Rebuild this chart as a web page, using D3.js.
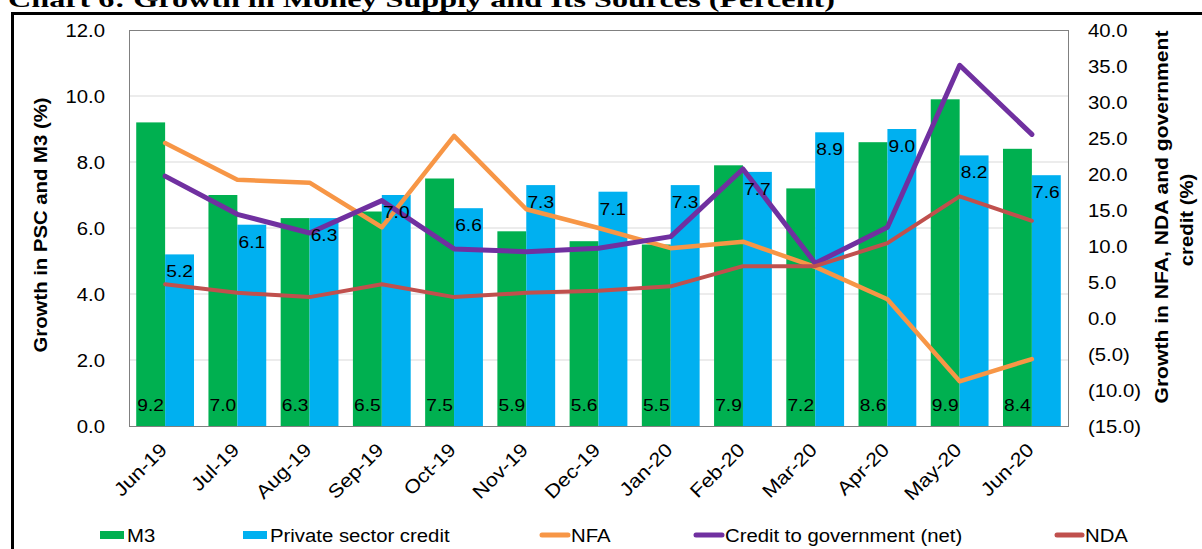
<!DOCTYPE html>
<html>
<head>
<meta charset="utf-8">
<script src="https://cdn.jsdelivr.net/npm/d3@7"></script>
<style>
  body { margin: 0; background: #fff; }
  svg { display: block; font-family: "Liberation Sans", Arial, sans-serif; }
</style>
</head>
<body>
<svg id="chart" width="1202" height="549"></svg>
<script>
// chart values
const categories = ["Jun-19", "Jul-19", "Aug-19", "Sep-19", "Oct-19", "Nov-19", "Dec-19",
                    "Jan-20", "Feb-20", "Mar-20", "Apr-20", "May-20", "Jun-20"];
const m3  = [9.2, 7.0, 6.3, 6.5, 7.5, 5.9, 5.6, 5.5, 7.9, 7.2, 8.6, 9.9, 8.4];
const psc = [5.2, 6.1, 6.3, 7.0, 6.6, 7.3, 7.1, 7.3, 7.7, 8.9, 9.0, 8.2, 7.6];
const nfa       = [24.3, 19.2, 18.8, 12.6, 25.3, 15.1, 12.5, 9.7, 10.6, 7.1, 2.6, -8.8, -5.7];
const govCredit = [19.7, 14.4, 11.8, 16.3, 9.6, 9.2, 9.7, 11.3, 20.7, 7.6, 12.6, 35.1, 25.5];
const nda       = [4.7, 3.5, 2.9, 4.7, 2.9, 3.5, 3.8, 4.4, 7.2, 7.2, 10.4, 16.9, 13.5];
const barNames  = ["M3", "Private sector credit"];
const lineNames = ["NFA", "Credit to government (net)", "NDA"];

const svg = d3.select("#chart");
const STRETCH = "scale(1.13,1)";  // text in the picture runs a bit wide

// plot area
const plotLeft = 129, plotRight = 1068, plotTop = 30, plotBottom = 426;

const x0 = d3.scaleBand().domain(categories).range([plotLeft, plotRight])
  .paddingInner(0.2).paddingOuter(0.1);
const x1 = d3.scaleBand().domain(barNames).range([0, x0.bandwidth()]);
const yL = d3.scaleLinear().domain([0, 12]).range([plotBottom, plotTop]);
const yR = d3.scaleLinear().domain([-15, 40]).range([plotBottom, plotTop]);
const cx = c => x0(c) + x0.bandwidth() / 2;

const barColours  = { "M3": "#00B050", "Private sector credit": "#00B0F0" };
const lineColours = { "NFA": "#F79646", "Credit to government (net)": "#7030A0", "NDA": "#C0504D" };

// outer frame + title (cut off at top, as in the source)
svg.append("rect")
  .attr("x", 12.5).attr("y", 13.5).attr("width", 1400).attr("height", 700)
  .attr("fill", "none").attr("stroke", "#000").attr("stroke-width", 3);

svg.append("text")
  .attr("x", 8).attr("y", 7)
  .attr("font-family", "'Liberation Serif', 'Times New Roman', serif")
  .attr("font-weight", "bold").attr("font-size", 23)
  .attr("textLength", 827).attr("lengthAdjust", "spacingAndGlyphs")
  .text("Chart 6: Growth in Money Supply and Its Sources (Percent)");

// gridlines
svg.append("g").selectAll("line").data(yL.ticks(6).filter(d => d > 0 && d < 12))
  .enter().append("line")
    .attr("x1", plotLeft).attr("x2", plotRight)
    .attr("y1", d => yL(d)).attr("y2", d => yL(d))
    .attr("stroke", "#d9d9d9").attr("stroke-width", 1);

// bars
const rows = categories.map((c, i) => ({ c, "M3": m3[i], "Private sector credit": psc[i] }));
const groups = svg.append("g").selectAll("g").data(rows).enter().append("g")
  .attr("transform", d => `translate(${x0(d.c)},0)`);

groups.selectAll("rect").data(d => barNames.map(k => ({ k, v: d[k] })))
  .enter().append("rect")
    .attr("x", d => x1(d.k))
    .attr("width", x1.bandwidth())
    .attr("y", d => yL(d.v))
    .attr("height", d => yL(0) - yL(d.v))
    .attr("fill", d => barColours[d.k]);

// plot border
svg.append("rect")
  .attr("x", plotLeft + 0.5).attr("y", plotTop + 0.5)
  .attr("width", plotRight - plotLeft).attr("height", plotBottom - plotTop)
  .attr("fill", "none").attr("stroke", "#808080").attr("stroke-width", 1);

// lines on the right axis
const lineSeries = [
  { name: "NFA", values: nfa, width: 4.5 },
  { name: "Credit to government (net)", values: govCredit, width: 5 },
  { name: "NDA", values: nda, width: 4 }
];
const lineGen = d3.line().x(d => cx(d.c)).y(d => yR(d.v));
svg.append("g").selectAll("path").data(lineSeries).enter().append("path")
  .attr("d", s => lineGen(categories.map((c, i) => ({ c, v: s.values[i] }))))
  .attr("fill", "none")
  .attr("stroke", s => lineColours[s.name])
  .attr("stroke-width", s => s.width)
  .attr("stroke-linejoin", "round").attr("stroke-linecap", "round");

// data labels
const fmt = d3.format(".1f");
const labels = svg.append("g").attr("font-size", 17).attr("fill", "#000").attr("text-anchor", "middle");
labels.selectAll(".m3lab").data(rows).enter().append("text")
  .attr("transform", d => `translate(${x0(d.c) + x1("M3") + x1.bandwidth() / 2},411) ${STRETCH}`)
  .text(d => fmt(d["M3"]));
labels.selectAll(".psclab").data(rows).enter().append("text")
  .attr("transform", d => `translate(${x0(d.c) + x1("Private sector credit") + x1.bandwidth() / 2},${yL(d["Private sector credit"]) + 23}) ${STRETCH}`)
  .text(d => fmt(d["Private sector credit"]));

// axes
const styleAxis = g => {
  g.attr("font-family", null).attr("font-size", null);
  g.select(".domain").remove();
  g.selectAll("text").attr("font-size", 18).attr("fill", "#000");
};

svg.append("g").attr("transform", "translate(105,0)")
  .call(d3.axisLeft(yL).ticks(6).tickSize(0).tickPadding(0).tickFormat(fmt))
  .call(styleAxis)
  .call(g => g.selectAll("text").attr("transform", STRETCH).attr("dy", "0.36em"));

svg.append("g").attr("transform", "translate(1088,0)")
  .call(d3.axisRight(yR).ticks(11).tickSize(0).tickPadding(0)
    .tickFormat(v => v < 0 ? `(${fmt(-v)})` : fmt(v)))
  .call(styleAxis)
  .call(g => g.selectAll("text").attr("transform", STRETCH).attr("dy", "0.36em"));

svg.append("g").attr("transform", `translate(0,${plotBottom})`)
  .call(d3.axisBottom(x0).tickSize(0).tickPadding(0))
  .call(styleAxis)
  .call(g => g.selectAll("text")
    .attr("font-size", 19)
    .attr("x", 0).attr("y", 0).attr("dy", 0)
    .attr("text-anchor", "end")
    .attr("transform", `translate(3,25) rotate(-45) ${STRETCH}`));

svg.append("line")
  .attr("x1", plotLeft).attr("x2", plotRight + 1)
  .attr("y1", plotBottom + 0.5).attr("y2", plotBottom + 0.5)
  .attr("stroke", "#808080");

// axis titles
svg.append("text")
  .attr("transform", "translate(47,225) rotate(-90)")
  .attr("text-anchor", "middle").attr("font-weight", "bold").attr("font-size", 18)
  .attr("textLength", 255).attr("lengthAdjust", "spacingAndGlyphs")
  .text("Growth in PSC and M3 (%)");

svg.append("text")
  .attr("transform", "translate(1168,217) rotate(-90)")
  .attr("text-anchor", "middle").attr("font-weight", "bold").attr("font-size", 18)
  .attr("textLength", 373).attr("lengthAdjust", "spacingAndGlyphs")
  .text("Growth in NFA, NDA and government");

svg.append("text")
  .attr("transform", `translate(1193,220) rotate(-90) ${STRETCH}`)
  .attr("text-anchor", "middle").attr("font-weight", "bold").attr("font-size", 18)
  .text("credit (%)");

// legend
const legendY = 535;
const legend = svg.append("g").attr("font-size", 18);
const legendItems = [
  { name: barNames[0], kind: "bar", x0: 100, x1: 124 },
  { name: barNames[1], kind: "bar", x0: 243, x1: 267 },
  { name: lineNames[0], kind: "line", x0: 542, x1: 568 },
  { name: lineNames[1], kind: "line", x0: 696, x1: 722 },
  { name: lineNames[2], kind: "line", x0: 1057, x1: 1082 }
];
legendItems.forEach(d => {
  if (d.kind === "bar") {
    legend.append("rect")
      .attr("x", d.x0).attr("y", legendY - 4).attr("width", d.x1 - d.x0).attr("height", 8)
      .attr("fill", barColours[d.name]);
  } else {
    legend.append("line")
      .attr("x1", d.x0).attr("x2", d.x1).attr("y1", legendY).attr("y2", legendY)
      .attr("stroke", lineColours[d.name]).attr("stroke-width", 5)
      .attr("stroke-linecap", "round");
  }
  legend.append("text")
    .attr("transform", `translate(${d.x1 + 3},${legendY + 7}) ${STRETCH}`)
    .attr("fill", "#000")
    .text(d.name);
});
</script>
</body>
</html>
